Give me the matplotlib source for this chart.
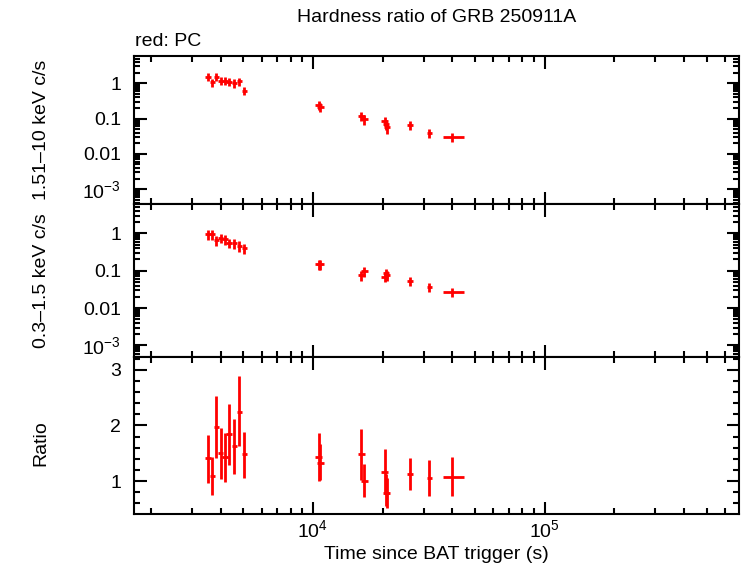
import numpy as np
import matplotlib.pyplot as plt
from matplotlib.ticker import LogLocator, NullFormatter, FuncFormatter, MultipleLocator

# time bins (s since BAT trigger)
t = np.array([3530, 3680, 3830, 3990, 4170, 4350, 4570, 4810, 5050,
              10580, 10760, 16170, 16650, 20390, 20660, 20940, 26220, 31780, 39680])
t_minus = np.array([110, 100, 100, 110, 110, 120, 120, 130, 130,
                    350, 350, 600, 600, 650, 650, 650, 700, 750, 3170])
t_plus = np.array([110, 100, 100, 110, 110, 120, 120, 130, 130,
                   350, 350, 600, 600, 650, 650, 650, 700, 750, 5300])

# 1.51-10 keV count rate
hard = np.array([1.54, 1.06, 1.54, 1.19, 1.19, 1.11, 1.02, 1.14, 0.62,
                 0.243, 0.209, 0.121, 0.095, 0.0855, 0.0703, 0.0566, 0.0645, 0.0383, 0.0308])
hard_err = np.array([0.40, 0.30, 0.40, 0.32, 0.32, 0.30, 0.28, 0.30, 0.17,
                     0.065, 0.058, 0.035, 0.030, 0.026, 0.022, 0.020, 0.018, 0.011, 0.009])

# 0.3-1.5 keV count rate
soft = np.array([0.938, 0.938, 0.661, 0.764, 0.689, 0.561, 0.539, 0.466, 0.395,
                 0.147, 0.147, 0.0762, 0.0976, 0.0688, 0.0845, 0.0762, 0.0537, 0.0363, 0.0272])
soft_err = np.array([0.27, 0.28, 0.19, 0.22, 0.20, 0.16, 0.16, 0.14, 0.11,
                     0.042, 0.042, 0.022, 0.028, 0.020, 0.025, 0.022, 0.015, 0.010, 0.008])

# hardness ratio with lower / upper bounds
ratio = np.array([1.41, 1.10, 1.98, 1.50, 1.43, 1.85, 1.63, 2.24, 1.48,
                  1.44, 1.33, 1.48, 1.00, 1.17, 0.79, 0.79, 1.12, 1.06, 1.08])
ratio_lo = np.array([0.97, 0.75, 1.41, 1.04, 0.98, 1.29, 1.13, 1.63, 1.06,
                     1.00, 1.02, 1.02, 0.72, 0.79, 0.56, 0.52, 0.84, 0.73, 0.73])
ratio_hi = np.array([1.83, 1.44, 2.53, 1.96, 1.86, 2.38, 2.12, 2.88, 1.88,
                     1.87, 1.67, 1.93, 1.30, 1.58, 1.12, 1.05, 1.41, 1.38, 1.43])

plt.rcParams.update({'font.size': 14,
                     'font.family': ['Liberation Sans', 'DejaVu Sans'],
                     'mathtext.default': 'regular'})

red = '#ff0000'
fig = plt.figure(figsize=(7.42, 5.66), dpi=100)
W, H = 742.0, 566.0
left = 133.5 / W
width = 605.5 / W
ax1 = fig.add_axes([left, 1 - 204 / H, width, 148 / H])
ax2 = fig.add_axes([left, 1 - 357 / H, width, 153 / H])
ax3 = fig.add_axes([left, 1 - 514 / H, width, 157 / H])

xerr = [t_minus, t_plus]
ekw = dict(fmt='none', ecolor=red, elinewidth=2.0, capsize=0)
ax1.errorbar(t, hard, yerr=hard_err, xerr=xerr, **ekw)
ax2.errorbar(t, soft, yerr=soft_err, xerr=xerr, **ekw)
ax3.errorbar(t, ratio, yerr=[ratio - ratio_lo, ratio_hi - ratio], xerr=xerr, **ekw)


def log_label(v, pos):
    labels = {1e-3: '10$^{−3}$', 1e-2: '0.01', 1e-1: '0.1', 1.0: '1'}
    for k, s in labels.items():
        if abs(v - k) / k < 1e-6:
            return s
    return ''


for ax in (ax1, ax2, ax3):
    ax.set_xscale('log')
    ax.set_xlim(1680, 6.9e5)
    ax.xaxis.set_major_locator(LogLocator(base=10, numticks=20))
    ax.xaxis.set_minor_locator(LogLocator(base=10, subs=np.arange(2, 10), numticks=20))
    ax.xaxis.set_minor_formatter(NullFormatter())
    for s in ax.spines.values():
        s.set_linewidth(1.5)
    ax.tick_params(which='both', direction='in', top=True, right=True, width=1.5)
    ax.tick_params(which='major', length=9)
    ax.tick_params(which='minor', length=4.5)
    ax.tick_params(axis='y', pad=9)
    ax.tick_params(axis='x', pad=4)

for ax in (ax1, ax2):
    ax.set_yscale('log')
    ax.yaxis.set_major_locator(LogLocator(base=10, numticks=20))
    ax.yaxis.set_minor_locator(LogLocator(base=10, subs=np.arange(2, 10), numticks=20))
    ax.yaxis.set_major_formatter(FuncFormatter(log_label))
    ax.yaxis.set_minor_formatter(NullFormatter())
    ax.tick_params(axis='x', which='both', labelbottom=False)

ax1.set_ylim(3.8e-4, 5.9)
ax2.set_ylim(4.9e-4, 6.1)
ax3.set_ylim(0.41, 3.23)
ax3.yaxis.set_major_locator(MultipleLocator(1))
ax3.yaxis.set_minor_locator(MultipleLocator(0.2))

lab_x = (49.5 - 133.5) / 605.5
ax1.set_ylabel('1.51–10 keV c/s')
ax2.set_ylabel('0.3–1.5 keV c/s')
ax3.set_ylabel('Ratio')
ax1.yaxis.set_label_coords(lab_x, 0.5)
ax2.yaxis.set_label_coords(lab_x, 0.5)
ax3.yaxis.set_label_coords(lab_x, (514 - 443) / 157)

ax3.set_xlabel('Time since BAT trigger (s)')
ax3.xaxis.set_label_coords(0.5, (514 - 546) / 157)

fig.text((133.5 + 739) / 2 / W, 1 - 18 / H, 'Hardness ratio of GRB 250911A',
         ha='center', va='center')
fig.text(135 / W, 1 - 41.7 / H, 'red: PC', ha='left', va='center')

fig.savefig('out.png', dpi=100)
